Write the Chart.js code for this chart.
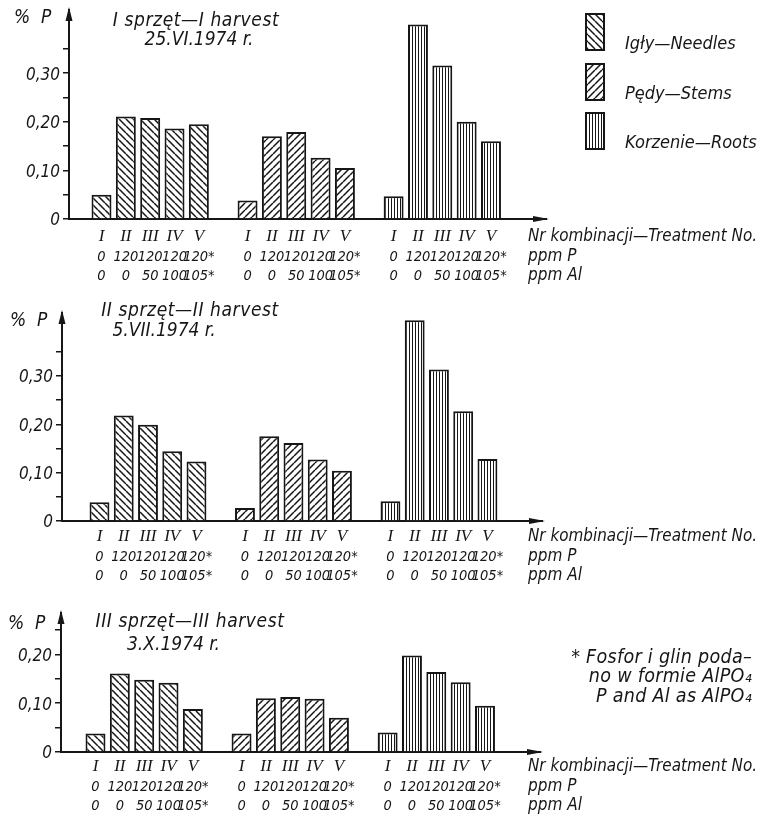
<!DOCTYPE html>
<html>
<head>
<meta charset="utf-8">
<script src="https://cdn.jsdelivr.net/npm/chart.js@4.4.1/dist/chart.umd.min.js"></script>
<style>
  html, body { margin: 0; padding: 0; background: #fff; }
  #wrap { position: relative; width: 758px; height: 832px; }
  canvas { position: absolute; left: 0; }
</style>
</head>
<body>
<div id="wrap">
  <canvas id="harvest1" width="758" height="295" style="top:0px"></canvas>
  <canvas id="harvest2" width="758" height="290" style="top:295px"></canvas>
  <canvas id="harvest3" width="758" height="247" style="top:585px"></canvas>
</div>
<script>
// treatment combinations, same for every plant part
var treatments = ['I', 'II', 'III', 'IV', 'V'];
var ppmP = ['0', '120', '120', '120', '120*'];
var ppmAl = ['0', '0', '50', '100', '105*'];
var parts = ['Igły—Needles', 'Pędy—Stems', 'Korzenie—Roots'];
var rowCaptions = ['Nr kombinacji—Treatment No.', 'ppm P', 'ppm Al'];
var yTickValues = ['0', '0,10', '0,20', '0,30'];

var harvestTitles = [
  ['I sprzęt—I harvest', '25.VI.1974 r.'],
  ['II sprzęt—II harvest', '5.VII.1974 r.'],
  ['III sprzęt—III harvest', '3.X.1974 r.']
];
var footnote = ['* Fosfor i glin poda–', 'no w formie AlPO₄', 'P and Al as AlPO₄'];

// % P, treatments I..V
var needles1 = [0.050, 0.211, 0.208, 0.186, 0.195];
var stems1   = [0.038, 0.170, 0.179, 0.126, 0.105];
var roots1   = [0.047, 0.400, 0.316, 0.200, 0.160];

var needles2 = [0.039, 0.218, 0.199, 0.144, 0.123];
var stems2   = [0.027, 0.175, 0.161, 0.127, 0.104];
var roots2   = [0.041, 0.415, 0.313, 0.227, 0.128];

var needles3 = [0.038, 0.161, 0.148, 0.142, 0.088];
var stems3   = [0.038, 0.110, 0.113, 0.109, 0.070];
var roots3   = [0.040, 0.198, 0.164, 0.143, 0.095];

var SANS = "'Liberation Sans Narrow', 'DejaVu Sans Condensed', 'Liberation Sans', sans-serif";
var SERIF = "'Liberation Serif', 'DejaVu Serif', serif";
var INK = '#161616';

// x position of a bar: 5 bars per part, one empty slot between parts
function slotOf(p, t) { return 1 + p * 6 + t; }
var slots = [];
parts.forEach(function (_, p) {
  treatments.forEach(function (_, t) { slots.push(slotOf(p, t)); });
});

function hatch(kind) {
  var s = kind === 'v' ? 3 : 7;
  var c = document.createElement('canvas');
  c.width = s; c.height = s;
  var g = c.getContext('2d');
  g.fillStyle = '#fff';
  g.fillRect(0, 0, s, s);
  g.fillStyle = INK;
  g.strokeStyle = INK;
  if (kind === 'v') {
    g.fillRect(1, 0, 1, s);
  } else {
    g.lineWidth = 1.5;
    g.beginPath();
    [-s, 0, s].forEach(function (o) {
      if (kind === '\\') { g.moveTo(o, 0); g.lineTo(o + s, s); }
      else { g.moveTo(o, s); g.lineTo(o + s, 0); }
    });
    g.stroke();
  }
  return g.createPattern(c, 'repeat');
}
var patterns = [hatch('\\'), hatch('/'), hatch('v')];

function txt(ctx, s, x, y, size, align, spacing, maxW) {
  ctx.save();
  ctx.font = 'italic ' + size + 'px ' + SANS;
  ctx.fillStyle = INK;
  ctx.textAlign = align || 'left';
  ctx.textBaseline = 'middle';
  if (spacing) ctx.letterSpacing = spacing + 'px';
  if (maxW) ctx.fillText(s, x, y, maxW);
  else ctx.fillText(s, x, y);
  ctx.restore();
}

function makeChart(id, g, needles, stems, roots) {
  var canvas = document.getElementById(id);
  var H = canvas.height;
  var datasets = [needles, stems, roots].map(function (vals, p) {
    return {
      label: parts[p],
      data: vals.map(function (v, t) { return { x: slotOf(p, t), y: v }; }),
      backgroundColor: patterns[p],
      borderColor: INK,
      borderWidth: 2,
      grouped: false,
      barPercentage: 0.82,
      categoryPercentage: 1
    };
  });

  var decorations = {
    id: 'decorations',
    afterDraw: function (chart) {
      var ctx = chart.ctx, a = chart.chartArea;
      ctx.save();
      ctx.fillStyle = INK;
      // axis arrows
      ctx.beginPath();
      ctx.moveTo(a.left, a.top - 3);
      ctx.lineTo(a.left - 3.5, a.top + 11);
      ctx.lineTo(a.left + 3.5, a.top + 11);
      ctx.fill();
      ctx.beginPath();
      ctx.moveTo(a.right + 3, a.bottom);
      ctx.lineTo(a.right - 13, a.bottom - 3);
      ctx.lineTo(a.right - 13, a.bottom + 3);
      ctx.fill();
      ctx.restore();

      txt(ctx, '%  P', g.pctX, g.pctY, 19);
      g.titles.forEach(function (tp, i) {
        txt(ctx, g.titleText[i], tp[0], tp[1], 19, 'center', i === 0 ? 0.6 : 0);
      });
      rowCaptions.forEach(function (s, i) {
        txt(ctx, s, 528, g.rows[i], 17, 'left', 0, 229);
      });
      if (g.legend) {
        chart.data.datasets.forEach(function (ds, i) {
          var bx = g.legend.x, by = g.legend.y[i];
          ctx.save();
          ctx.fillStyle = ds.backgroundColor;
          ctx.fillRect(bx, by, g.legend.w, g.legend.h);
          ctx.strokeStyle = INK;
          ctx.lineWidth = 2;
          ctx.strokeRect(bx + 1, by + 1, g.legend.w - 2, g.legend.h - 2);
          ctx.restore();
          txt(ctx, ds.label, g.legend.tx, g.legend.ty[i], 18);
        });
      }
      if (g.note) {
        footnote.forEach(function (s, i) {
          txt(ctx, s, g.note.x, g.note.y[i], 19.5, 'right', 0.3);
        });
      }
    }
  };

  var bottomTicks = function (s) { s.ticks = slots.map(function (v) { return { value: v }; }); };

  return new Chart(canvas, {
    type: 'bar',
    data: { datasets: datasets },
    options: {
      responsive: false,
      animation: false,
      devicePixelRatio: 1,
      layout: { padding: { left: 0, top: g.plotTop, right: canvas.width - g.right, bottom: 0 } },
      plugins: { legend: { display: false }, tooltip: { enabled: false } },
      scales: {
        x: {
          type: 'linear', position: 'bottom', weight: 0, bounds: 'data', offset: false,
          min: g.xMin, max: g.xMax,
          afterBuildTicks: bottomTicks,
          afterFit: function (s) { s.height = g.rows[0] - g.zero + 10; s.paddingLeft = 0; s.paddingRight = 0; },
          grid: { display: false, drawTicks: false, offset: false },
          border: { display: true, color: INK, width: 2 },
          ticks: {
            autoSkip: false, maxRotation: 0, color: INK,
            padding: g.rows[0] - g.zero - 10,
            font: { family: SERIF, size: 17, style: 'italic', lineHeight: '20px' },
            callback: function (v) { return treatments[slots.indexOf(v) % 5]; }
          }
        },
        x2: {
          type: 'linear', position: 'bottom', weight: 1, bounds: 'data', offset: false,
          min: g.xMin, max: g.xMax,
          afterBuildTicks: bottomTicks,
          afterFit: function (s) { s.height = H - g.rows[0] - 10; s.paddingLeft = 0; s.paddingRight = 0; },
          grid: { display: false, drawTicks: false, offset: false },
          border: { display: false },
          ticks: {
            autoSkip: false, maxRotation: 0, color: INK,
            padding: Math.max(0, g.rows[1] - g.rows[0] - 19.5),
            font: { family: SANS, size: 14.5, style: 'italic', lineHeight: '19px' },
            callback: function (v) {
              var t = slots.indexOf(v) % 5;
              return [ppmP[t], ppmAl[t]];
            }
          }
        },
        y: {
          min: 0, max: g.yMax,
          afterFit: function (s) { s.width = g.left; s.paddingTop = 0; s.paddingBottom = 0; },
          border: { color: INK, width: 2 },
          grid: { drawOnChartArea: false, color: INK, lineWidth: 1.5, tickLength: 6 },
          ticks: {
            stepSize: 0.05, includeBounds: false, padding: 3, labelOffset: 2, color: INK,
            font: { family: SANS, size: 17, style: 'italic' },
            callback: function (v) {
              var r = Math.round(v * 100);
              return r % 10 ? '' : yTickValues[r / 10];
            }
          }
        }
      }
    },
    plugins: [decorations]
  });
}

makeChart('harvest1', {
  left: 69, plotTop: 10, zero: 219, right: 546, xMin: -0.335, xMax: 19.26, yMax: 0.43,
  rows: [237, 257, 276], pctX: 14, pctY: 18,
  titleText: harvestTitles[0], titles: [[196, 21], [199, 40]],
  legend: { x: 585, w: 20, h: 38, y: [13, 63, 112], tx: 625, ty: [44, 94, 143] }
}, needles1, stems1, roots1);

makeChart('harvest2', {
  left: 62, plotTop: 18, zero: 226, right: 542, xMin: -0.546, xMax: 19.25, yMax: 0.43,
  rows: [242, 262, 281], pctX: 10, pctY: 26,
  titleText: harvestTitles[1], titles: [[190, 16], [164, 36]]
}, needles2, stems2, roots2);

makeChart('harvest3', {
  left: 61, plotTop: 28, zero: 167, right: 540, xMin: -0.417, xMax: 19.26, yMax: 0.285,
  rows: [182, 202, 221], pctX: 8, pctY: 39,
  titleText: harvestTitles[2], titles: [[190, 37], [173.5, 60]],
  note: { x: 752, y: [73, 92, 112] }
}, needles3, stems3, roots3);
</script>
</body>
</html>
